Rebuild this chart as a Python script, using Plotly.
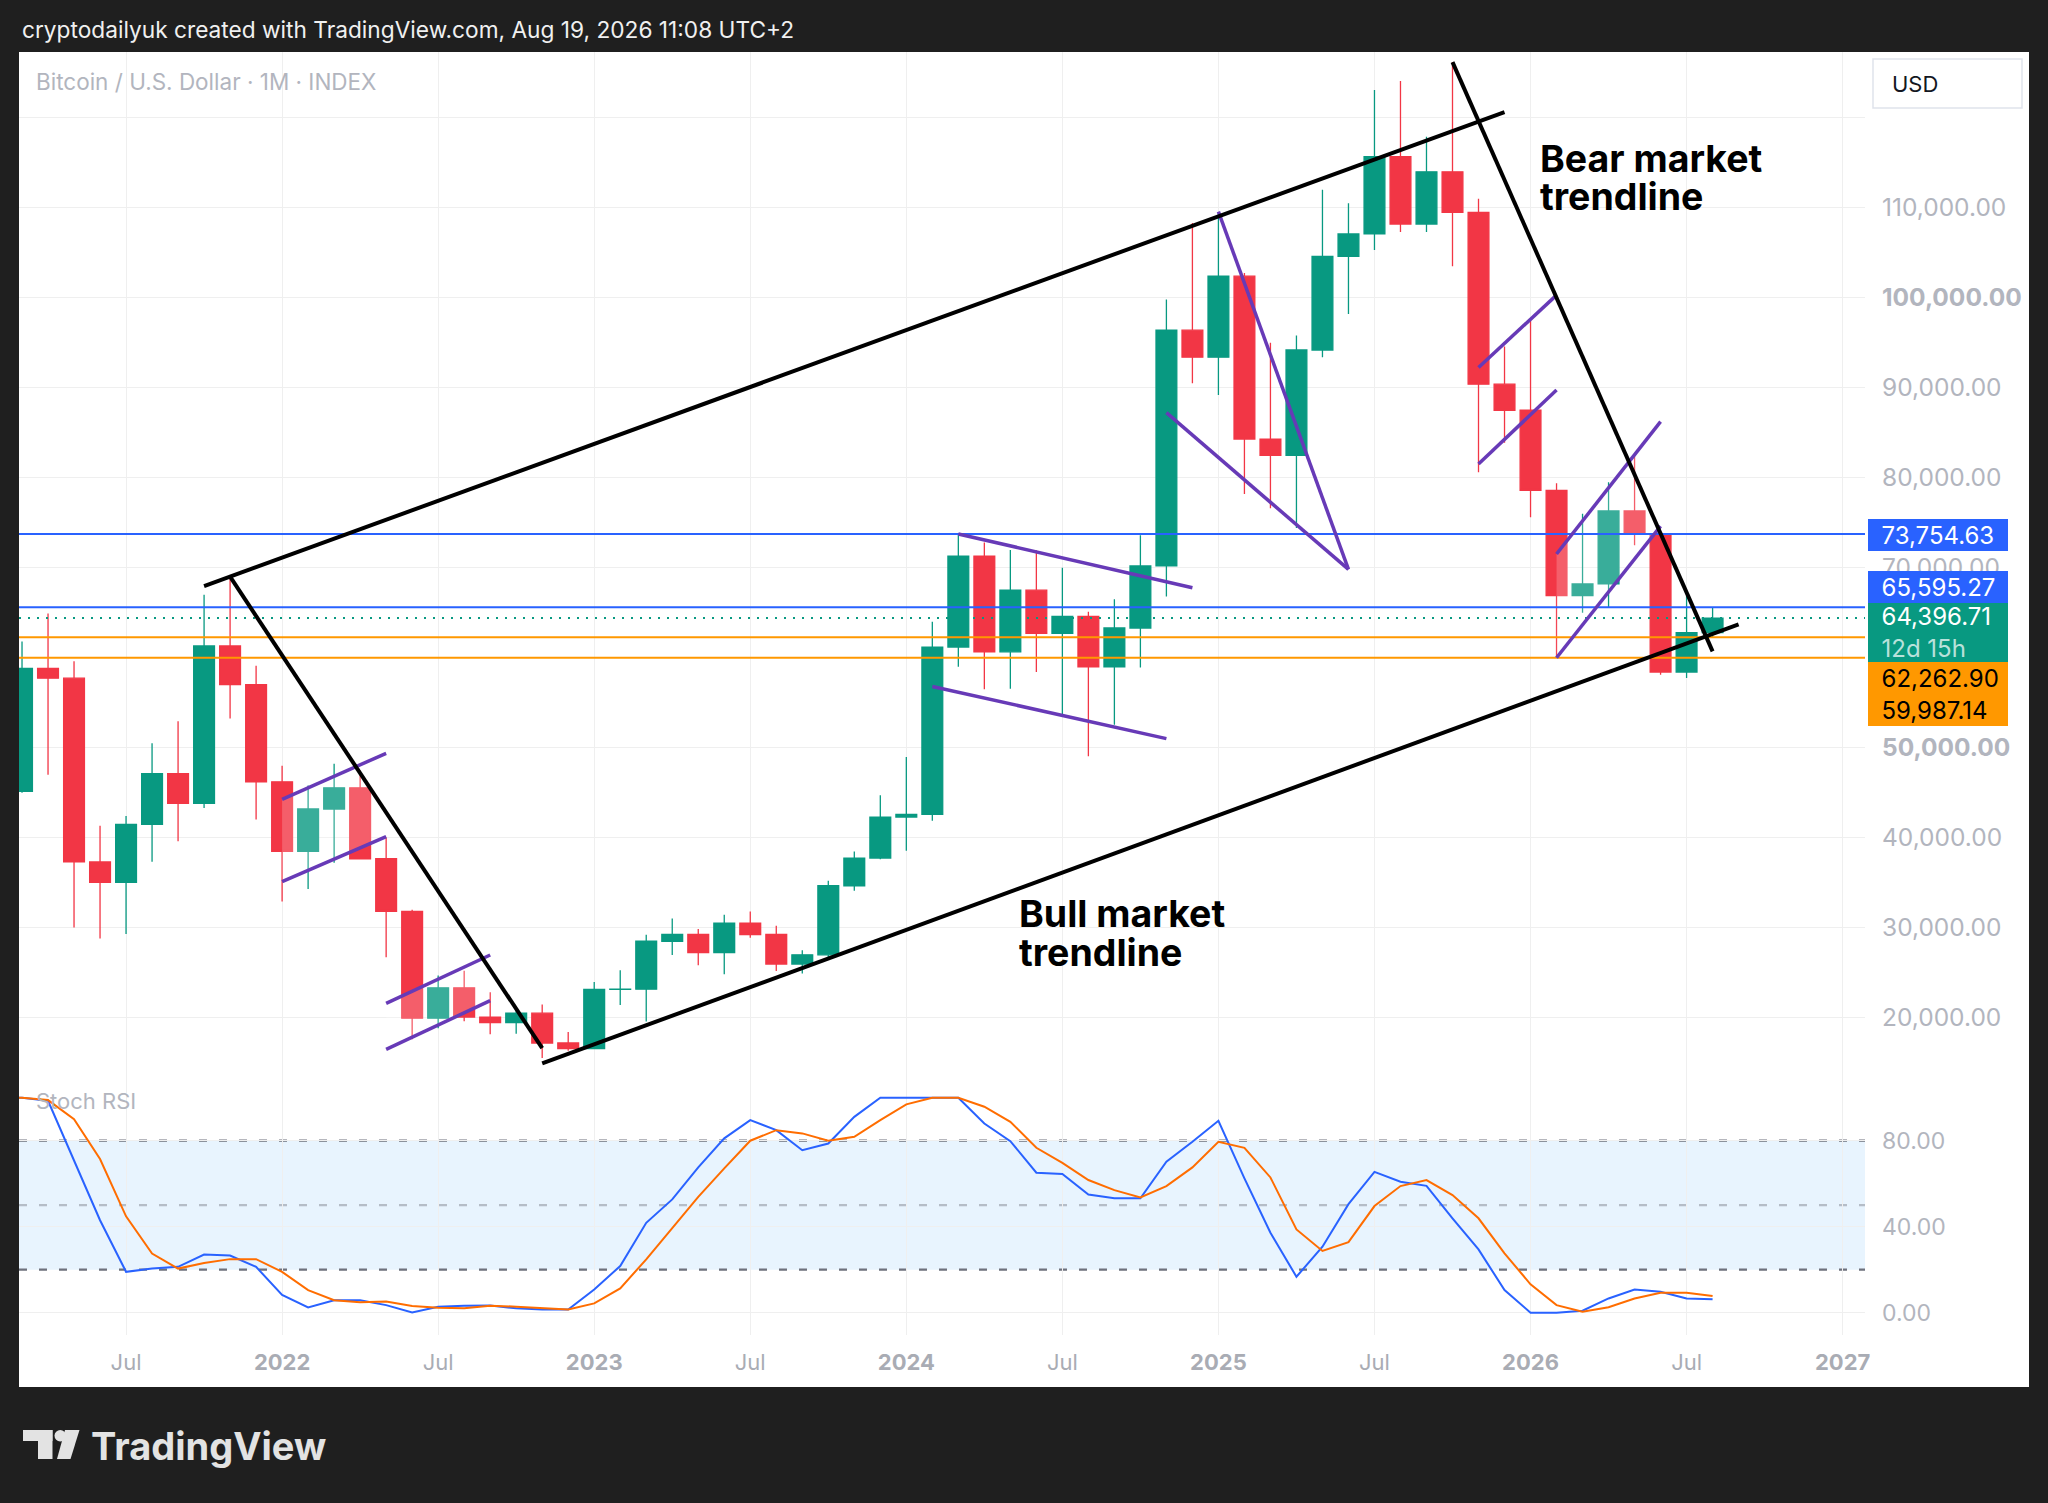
import plotly.graph_objects as go
import pandas as pd

# ---------------- data ----------------
months = [p.strftime("%Y-%m") for p in pd.period_range("2021-02", "2026-08", freq="M")]

opens = [33100, 45140, 58800, 57720, 37300, 35040, 41460, 47100, 43820, 61300, 57000,
         46200, 38480, 43180, 45530, 37650, 31800, 19930, 23300, 20050, 19430, 20490, 17170,
         16540, 23130, 23150, 28480, 29250, 27220, 30480, 29230, 25940, 26970, 34650, 37720,
         42280, 42580, 61180, 71290, 60650, 67500, 62700, 64600, 58970, 63300, 70200, 96400,
         93400, 102400, 84300, 82500, 94200, 104600, 107100, 115700, 108200, 114000, 109500, 90400,
         87500, 78600, 66900, 68200, 76300, 73750, 58400, 62780]
highs = [58350, 61790, 64900, 59600, 41330, 42400, 50500, 52920, 67000, 69000, 59100,
         47990, 45800, 48200, 47450, 40000, 31980, 24670, 25200, 22800, 21100, 21450, 18400,
         23960, 25250, 29200, 31000, 29840, 31430, 31800, 30200, 27480, 35200, 38450, 44700,
         48970, 64000, 73754.63, 72800, 71980, 71950, 70000, 65100, 66500, 73600, 99800, 108300,
         109400, 102750, 95000, 95800, 112000, 110500, 123100, 124100, 117900, 126200, 111000, 94600,
         97700, 79400, 76000, 79500, 82500, 74000, 66900, 65595.27]
lows = [32300, 45000, 47000, 30000, 28800, 29280, 37330, 39600, 43280, 53250, 42000,
        32900, 34300, 37200, 37700, 26700, 17600, 18800, 19600, 18150, 18200, 15500, 16300,
        16500, 21400, 19570, 26940, 25800, 24800, 28860, 25170, 24900, 26550, 34100, 37600,
        38550, 41880, 59000, 56500, 56550, 58400, 53500, 49050, 52550, 58900, 66800, 90500,
        89200, 78200, 76600, 74400, 93400, 98200, 105300, 107300, 107300, 103500, 80600, 83900,
        75600, 59987.14, 65000, 65600, 72500, 58100, 57740, 62262.90]
closes = [45140, 58800, 57720, 37300, 35040, 41460, 47100, 43820, 61300, 57000, 46200,
          38480, 43180, 45530, 37650, 31800, 19930, 23300, 20050, 19430, 20490, 17170, 16540,
          23130, 23150, 28480, 29250, 27220, 30480, 29230, 25940, 26970, 34650, 37720, 42280,
          42580, 61180, 71290, 60650, 67500, 62700, 64600, 58970, 63300, 70200, 96400, 93400,
          102400, 84300, 82500, 94200, 104600, 107100, 115700, 108200, 114000, 109500, 90400, 87500,
          78600, 66900, 68200, 76300, 73750, 58400, 62780, 64396.71]

stoch_k = [100, 100, 98.6, 71, 43, 19, 20.5, 21.3, 27, 26.6, 21.3,
           8.2, 2.4, 5.8, 5.8, 3.5, 0.1, 2.7, 3.2, 3.3, 2.0, 1.5, 1.5,
           10.8, 21.7, 41.8, 52.7, 67.6, 81.1, 89.6, 84.9, 75.6, 78.7, 91.1, 100,
           100, 100, 100, 88, 79.8, 65.1, 64.5, 55.0, 53.2, 53.2, 70.2, 79.5,
           89.3, 62.5, 37.2, 16.7, 30.7, 50.5, 65.5, 60.9, 59.0, 43.9, 29.4, 10.5,
           0, 0, 0.9, 6.6, 10.8, 9.7, 6.6, 6.2]
stoch_d = [100, 100, 98.9, 90, 71.5, 44.8, 27.5, 20.5, 23.1, 24.9, 24.9,
           19, 10.5, 5.8, 4.8, 5.2, 3.1, 2.3, 2.0, 3.2, 2.8, 2.3, 1.5,
           4.3, 11.3, 24.8, 39.2, 53.9, 67.1, 80, 84.9, 83.4, 80, 81.8, 89.6,
           96.9, 100, 100, 95.8, 88.8, 76.7, 69.7, 61.7, 57.0, 53.6, 58.9, 67.6,
           79.5, 76.7, 62.9, 38.7, 28.7, 32.8, 49.6, 58.9, 61.7, 54.7, 43.9, 27.6,
           13.2, 3.5, 0.4, 2.5, 6.6, 9.3, 9.3, 7.7]

tick_months = ["2021-07", "2022-01", "2022-07", "2023-01", "2023-07", "2024-01", "2024-07",
               "2025-01", "2025-07", "2026-01", "2026-07", "2027-01"]
tick_labels = ["Jul", "2022", "Jul", "2023", "Jul", "2024", "Jul", "2025", "Jul", "2026", "Jul", "2027"]

price_ticks = [20000, 30000, 40000, 50000, 60000, 70000, 80000, 90000, 100000, 110000, 120000]
price_hidden = [60000, 120000]
price_bold = [50000, 100000]
stoch_ticks = [0, 40, 80]

# horizontal price levels
levels_blue = [73754.63, 65595.27]
last_price = 64396.71
last_timer = "12d 15h"
levels_orange = [62262.90, 59987.14]

# trendline drawings (start month, start price, end month, end price)
black_lines = [
    ("2021-10", 67950, "2025-12", 120650),
    ("2021-11", 69000, "2022-11", 16600),
    ("2022-11", 14900, "2026-09", 63700),
    ("2025-10", 126200, "2026-08", 60700),
]
purple_lines = [
    ("2022-01", 44260, "2022-05", 49370),
    ("2022-01", 35100, "2022-05", 40100),
    ("2022-05", 21585, "2022-09", 26950),
    ("2022-05", 16470, "2022-09", 21875),
    ("2024-03", 73750, "2024-12", 67780),
    ("2024-02", 56800, "2024-11", 51000),
    ("2024-11", 87230, "2025-06", 69810),
    ("2025-01", 109580, "2025-06", 69810),
    ("2025-11", 92260, "2026-02", 100300),
    ("2025-11", 81520, "2026-02", 89750),
    ("2026-02", 71520, "2026-06", 86230),
    ("2026-02", 59990, "2026-06", 74630),
]
filled_channels = [(0, 1), (2, 3), (10, 11)]

# ---------------- style / layout ----------------
W, H = 2048, 1503
L, R, T, B = 19, 1865, 52, 1335
SPLIT = 1070
FONT = "Inter, Roboto, sans-serif"
GREEN, RED, BLUE, ORANGE = "#089981", "#f23645", "#2962ff", "#ff9800"
PURPLE = "#673ab7"
GRID = "#efefef"
DARK = "#1f1f1f"


def px(X):
    return (X - L) / (R - L)


def py(Y):
    return (B - Y) / (B - T)


def midx(m):
    y, mo = map(int, m.split("-"))
    return (y - 2021) * 12 + mo - 1


x_idx = [midx(m) for m in months]
x_range = [1.884, 72.86]
price_range = [14170, 127320]
stoch_range = [-10.4, 112.9]

fig = go.Figure()

fig.add_trace(go.Candlestick(
    x=x_idx, open=opens, high=highs, low=lows, close=closes,
    increasing=dict(line=dict(color=GREEN, width=1.3), fillcolor=GREEN),
    decreasing=dict(line=dict(color=RED, width=1.3), fillcolor=RED),
    whiskerwidth=0, xaxis="x", yaxis="y", showlegend=False, hoverinfo="skip"))

fig.add_trace(go.Scatter(x=x_idx, y=stoch_k, mode="lines", line=dict(color=BLUE, width=2),
                         xaxis="x2", yaxis="y2", showlegend=False, hoverinfo="skip"))
fig.add_trace(go.Scatter(x=x_idx, y=stoch_d, mode="lines", line=dict(color="#ff6d00", width=2),
                         xaxis="x2", yaxis="y2", showlegend=False, hoverinfo="skip"))

shapes = []
# white chart panel
shapes.append(dict(type="rect", xref="paper", yref="paper", x0=px(19), x1=px(2029),
                   y0=py(1387), y1=py(52), fillcolor="white", line=dict(width=0), layer="below"))
# USD box
shapes.append(dict(type="rect", xref="paper", yref="paper", x0=px(1873), x1=px(2022),
                   y0=py(108), y1=py(59), fillcolor="white", line=dict(color="#e0e3eb", width=1.5),
                   layer="below"))
# stoch band and levels
shapes.append(dict(type="rect", xref="x2 domain", yref="y2", x0=0, x1=1, y0=20, y1=80,
                   fillcolor="rgba(33,150,243,0.1)", line=dict(width=0), layer="below"))
for lv, col in [(80, "#6e717c"), (50, "rgba(120,123,134,0.45)"), (20, "#6e717c")]:
    shapes.append(dict(type="line", xref="x2 domain", yref="y2", x0=0, x1=1, y0=lv, y1=lv,
                       line=dict(color=col, width=2.2, dash="8px,12px"), layer="below"))

# channel fills (lighten candles inside)
for a, b in filled_channels:
    s1, p1, e1, q1 = purple_lines[a]
    s2, p2, e2, q2 = purple_lines[b]
    path = (f"M {midx(s1)},{p1} L {midx(e1)},{q1} L {midx(e2)},{q2} L {midx(s2)},{p2} Z")
    shapes.append(dict(type="path", xref="x", yref="y", path=path,
                       fillcolor="rgba(255,255,255,0.2)", line=dict(width=0), layer="above"))

# horizontal price levels
for v in levels_blue:
    shapes.append(dict(type="line", xref="x domain", yref="y", x0=0, x1=1, y0=v, y1=v,
                       line=dict(color=BLUE, width=2), layer="above"))
shapes.append(dict(type="line", xref="x domain", yref="y", x0=0, x1=1, y0=last_price, y1=last_price,
                   line=dict(color=GREEN, width=2, dash="2px,7px"), layer="above"))
for v in levels_orange:
    shapes.append(dict(type="line", xref="x domain", yref="y", x0=0, x1=1, y0=v, y1=v,
                       line=dict(color=ORANGE, width=2), layer="above"))

for s, p, e, q in purple_lines:
    shapes.append(dict(type="line", xref="x", yref="y", x0=midx(s), y0=p, x1=midx(e), y1=q,
                       line=dict(color=PURPLE, width=3.5), layer="above"))
for s, p, e, q in black_lines:
    shapes.append(dict(type="line", xref="x", yref="y", x0=midx(s), y0=p, x1=midx(e), y1=q,
                       line=dict(color="black", width=4), layer="above"))

# TradingView logo mark
logo = "#e3e3e3"
shapes.append(dict(type="rect", xref="paper", yref="paper", x0=px(23), x1=px(52.5),
                   y0=py(1441), y1=py(1430), fillcolor=logo, line=dict(width=0), layer="above"))
shapes.append(dict(type="rect", xref="paper", yref="paper", x0=px(38), x1=px(52.5),
                   y0=py(1459), y1=py(1430), fillcolor=logo, line=dict(width=0), layer="above"))
shapes.append(dict(type="circle", xref="paper", yref="paper", x0=px(54.5), x1=px(66),
                   y0=py(1441.5), y1=py(1430), fillcolor=logo, line=dict(width=0), layer="above"))
shapes.append(dict(type="path", xref="paper", yref="paper",
                   path=f"M {px(65)},{py(1430)} L {px(79.5)},{py(1430)} L {px(70.5)},{py(1459)} "
                        f"L {px(57)},{py(1459)} Z",
                   fillcolor=logo, line=dict(width=0), layer="above"))

annotations = []
annotations.append(dict(xref="paper", yref="paper", x=px(20), y=py(29), xanchor="left", yanchor="middle",
                        text="cryptodailyuk created with TradingView.com, Aug 19, 2026 11:08 UTC+2",
                        showarrow=False, font=dict(family=FONT, size=22.7, color="#f0f0f0")))
annotations.append(dict(xref="paper", yref="paper", x=px(34), y=py(81), xanchor="left", yanchor="middle",
                        text="Bitcoin / U.S. Dollar · 1M · INDEX", showarrow=False,
                        font=dict(family=FONT, size=22.5, color="#b2b5be")))
annotations.append(dict(xref="paper", yref="paper", x=px(34), y=py(1101), xanchor="left", yanchor="middle",
                        text="Stoch RSI", showarrow=False, font=dict(family=FONT, size=22, color="#b2b5be")))
annotations.append(dict(xref="paper", yref="paper", x=px(1890), y=py(84), xanchor="left", yanchor="middle",
                        text="USD", showarrow=False, font=dict(family=FONT, size=22, color="#131722")))

# price tags on the scale
tag_x = px(1867.7)
tags = [
    (levels_blue[0], BLUE, "white", -1.5, None),
    (levels_blue[1], BLUE, "white", 20.5, None),
    (last_price, GREEN, "white", -14.4, last_timer),
    (levels_orange[0], ORANGE, "black", -40.7, None),
    (levels_orange[1], ORANGE, "black", -52.7, None),
]
for v, bg, fg, shift, extra in tags:
    txt = "&nbsp;&nbsp;" + f"{v:,.2f}"
    h = 32.4
    if extra:
        txt += "<br>&nbsp;&nbsp;<span style='color:rgba(255,255,255,0.72)'>" + extra + "</span>"
        h = 59
    annotations.append(dict(xref="paper", yref="y", x=tag_x, y=v, xanchor="left", yanchor="middle",
                            yshift=shift, text=txt, showarrow=False, align="left", valign="middle",
                            width=140, height=h, bgcolor=bg, borderpad=0, borderwidth=0,
                            font=dict(family=FONT, size=24, color=fg)))

# drawing texts
for txt, X, Y in [("Bear market", 1538, 158), ("trendline", 1538, 196),
                  ("Bull market", 1017, 914), ("trendline", 1017, 952)]:
    annotations.append(dict(xref="paper", yref="paper", x=px(X), y=py(Y), xanchor="left", yanchor="middle",
                            text=txt, showarrow=False,
                            font=dict(family=FONT, size=37.5, color="black", weight=700)))

annotations.append(dict(xref="paper", yref="paper", x=px(89), y=py(1446), xanchor="left", yanchor="middle",
                        text="TradingView", showarrow=False,
                        font=dict(family=FONT, size=38, color=logo, weight=700)))

price_text = []
for t in price_ticks:
    if t in price_hidden:
        price_text.append("")
    elif t in price_bold:
        price_text.append(f"<b>{t:,.2f}</b>")
    else:
        price_text.append(f"{t:,.2f}")

x_tickvals = [midx(m) for m in tick_months]
x_ticktext = [f"<b>{t}</b>" if t.isdigit() else t for t in tick_labels]

dom_split = py(SPLIT)

fig.update_layout(
    width=W, height=H,
    margin=dict(l=L, r=W - R, t=T, b=H - B, pad=0),
    paper_bgcolor=DARK, plot_bgcolor="white",
    boxgap=0.2, boxgroupgap=0,
    shapes=shapes, annotations=annotations,
    font=dict(family=FONT),
    xaxis=dict(domain=[0, 1], anchor="y", range=x_range, tickvals=x_tickvals, showticklabels=False,
               showgrid=True, gridcolor=GRID, gridwidth=1, zeroline=False, showline=False, ticks="",
               rangeslider=dict(visible=False), fixedrange=True),
    xaxis2=dict(domain=[0, 1], anchor="y2", range=x_range, tickvals=x_tickvals, ticktext=x_ticktext,
                showgrid=True, gridcolor=GRID, gridwidth=1, zeroline=False, showline=False, ticks="",
                ticklabelstandoff=12, tickfont=dict(family=FONT, size=22, color="#a9acb4"), fixedrange=True),
    yaxis=dict(domain=[dom_split, 1], anchor="x", side="right", range=price_range, tickvals=price_ticks,
               ticktext=price_text, showgrid=True, gridcolor=GRID, gridwidth=1, zeroline=False,
               showline=False, ticks="", ticklabelstandoff=16,
               tickfont=dict(family=FONT, size=24.5, color="#b2b5be"), fixedrange=True),
    yaxis2=dict(domain=[0, dom_split], anchor="x2", side="right", range=stoch_range, tickvals=stoch_ticks,
                ticktext=[f"{t:.2f}" for t in stoch_ticks], showgrid=True, gridcolor=GRID, gridwidth=1,
                zeroline=False, showline=False, ticks="", ticklabelstandoff=16,
                tickfont=dict(family=FONT, size=23, color="#b2b5be"), fixedrange=True),
    showlegend=False,
)

fig.write_html(
    "out.html",
    config={"displayModeBar": False},
    post_script=("document.body.style.margin='0';document.body.style.padding='0';"
                 "document.documentElement.style.overflow='hidden';"
                 "document.body.style.background='" + DARK + "';"),
)
